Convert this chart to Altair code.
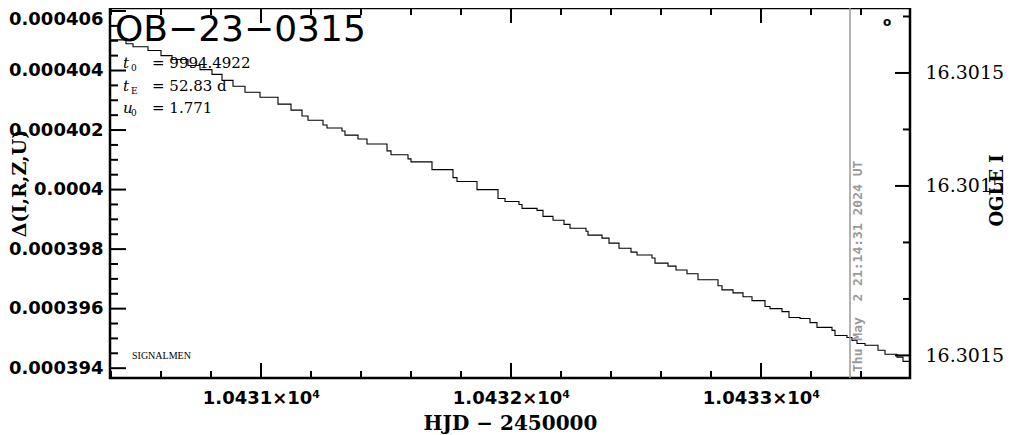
import altair as alt
import pandas as pd

# ---- light-curve data (HJD - 2450000, model flux) ----
hjd = [10430.396, 10430.460, 10430.488, 10430.548, 10430.600, 10430.644, 10430.708, 10430.756,
       10430.804, 10430.844, 10430.888, 10430.936, 10430.996, 10431.068, 10431.120, 10431.164,
       10431.188, 10431.248, 10431.264, 10431.324, 10431.336, 10431.388, 10431.424, 10431.504,
       10431.520, 10431.588, 10431.600, 10431.684, 10431.768, 10431.784, 10431.864, 10431.948,
       10431.976, 10432.032, 10432.044, 10432.104, 10432.128, 10432.168, 10432.212, 10432.236,
       10432.300, 10432.308, 10432.364, 10432.392, 10432.432, 10432.480, 10432.504, 10432.564,
       10432.576, 10432.628, 10432.660, 10432.704, 10432.748, 10432.828, 10432.844, 10432.888,
       10432.928, 10432.964, 10433.016, 10433.036, 10433.084, 10433.112, 10433.156, 10433.196,
       10433.224, 10433.284, 10433.296, 10433.344, 10433.364, 10433.384, 10433.416, 10433.468,
       10433.496, 10433.544, 10433.568, 10433.596]
flux = [0.00040503, 0.00040490, 0.00040480, 0.00040467, 0.00040450, 0.00040437, 0.00040417, 0.00040403,
        0.00040387, 0.00040367, 0.00040347, 0.00040327, 0.00040310, 0.00040287, 0.00040267, 0.00040247,
        0.00040233, 0.00040217, 0.00040207, 0.00040197, 0.00040183, 0.00040170, 0.00040153, 0.00040130,
        0.00040117, 0.00040103, 0.00040093, 0.00040067, 0.00040040, 0.00040027, 0.00040000, 0.00039970,
        0.00039960, 0.00039950, 0.00039937, 0.00039930, 0.00039910, 0.00039897, 0.00039883, 0.00039870,
        0.00039860, 0.00039847, 0.00039837, 0.00039820, 0.00039803, 0.00039790, 0.00039780, 0.00039770,
        0.00039753, 0.00039743, 0.00039730, 0.00039717, 0.00039697, 0.00039677, 0.00039663, 0.00039653,
        0.00039640, 0.00039627, 0.00039607, 0.00039600, 0.00039590, 0.00039570, 0.00039567, 0.00039553,
        0.00039537, 0.00039527, 0.00039510, 0.00039503, 0.00039493, 0.00039483, 0.00039477, 0.00039460,
        0.00039447, 0.00039437, 0.00039423, 0.00039423]

# ---- tick values ----
left_major = [0.000394, 0.000396, 0.000398, 0.0004, 0.000402, 0.000404, 0.000406]
left_minor = [0.0003945, 0.000395, 0.0003955, 0.0003965, 0.000397, 0.0003975, 0.0003985, 0.000399,
              0.0003995, 0.0004005, 0.000401, 0.0004015, 0.0004025, 0.000403, 0.0004035, 0.0004045,
              0.000405, 0.0004055]
x_major = [10431, 10432, 10433]
x_minor = [10430.4, 10430.6, 10430.8, 10431.2, 10431.4, 10431.6, 10431.8, 10432.2, 10432.4,
           10432.6, 10432.8, 10433.2, 10433.4]
ogle_major = [16.30149, 16.301494, 16.3015]
ogle_minor = [16.301488, 16.301492, 16.301496, 16.301498]

# ---- annotations ----
event = "OB\u221223\u22120315"
now_hjd = [10433.356]
now_label = ["Thu May \u00a02 21:14:31 2024 UT"]
param_sym = ["t", "t", "u"]
param_sub = ["0", "E", "0"]
param_val = ["= 9994.4922", "= 52.83 d", "= 1.771"]
footer = "SIGNALMEN"

W, H = 800, 370
xs = alt.Scale(domain=[10430.396, 10433.596], nice=False, zero=False)
ys = alt.Scale(domain=[0.00039367, 0.0004061], nice=False, zero=False)
ms = alt.Scale(domain=[16.3014877, 16.3015008], nice=False, zero=False, reverse=True)

lc = pd.DataFrame({"hjd": hjd, "flux": flux})

line = alt.Chart(lc).mark_line(interpolate="step-after", color="black", strokeWidth=1.1).encode(
    x=alt.X("hjd:Q", scale=xs, axis=alt.Axis(
        values=x_major, labelExpr="format(datum.value / 10000, '.4f') + '\u00d710\u2074'",
        ticks=False, domain=False, grid=False, labelFlush=False,
        labelFont="DejaVu Sans", labelFontWeight="bold", labelFontSize=18, labelColor="black",
        labelPadding=11,
        title="HJD \u2212 2450000", titleFont="DejaVu Serif", titleFontWeight="bold",
        titleFontSize=20, titleColor="black", titleY=51, titleBaseline="alphabetic")),
    y=alt.Y("flux:Q", scale=ys, axis=alt.Axis(
        values=left_major, labelExpr="format(datum.value, '~g')",
        ticks=False, domain=False, grid=False, labelFlush=False, labelOverlap=False,
        labelFont="DejaVu Sans", labelFontWeight="bold", labelFontSize=18, labelColor="black",
        labelPadding=7,
        labelBaseline={"condition": {"test": "datum.value > 0.0004055", "value": "top"},
                       "value": "middle"},
        title="\u0394(I,R,Z,U)", titleFont="DejaVu Serif", titleFontWeight="bold",
        titleFontSize=19, titleColor="black", titleAngle=270, titleX=-91, titleY=175,
        titleAlign="center", titleBaseline="middle")),
)


def yrules(vals, length):
    return alt.Chart(pd.DataFrame({"v": vals})).mark_rule(color="black", strokeWidth=2).encode(
        y=alt.Y("v:Q", scale=ys, axis=None), x=alt.value(0), x2=alt.value(length))


def xrules(vals, length, top):
    base = alt.Chart(pd.DataFrame({"v": vals})).mark_rule(color="black", strokeWidth=2)
    if top:
        return base.encode(x=alt.X("v:Q", scale=xs, axis=None), y=alt.value(0), y2=alt.value(length))
    return base.encode(x=alt.X("v:Q", scale=xs, axis=None), y=alt.value(H), y2=alt.value(H - length))


now_df = pd.DataFrame({"t": now_hjd, "s": now_label})
vline = alt.Chart(now_df).mark_rule(color="#9a9a9a", strokeWidth=1.5).encode(
    x=alt.X("t:Q", scale=xs, axis=None), y=alt.value(0), y2=alt.value(H))
vtext = alt.Chart(now_df).mark_text(
    angle=270, align="left", baseline="middle", dy=8, font="DejaVu Sans Mono",
    fontWeight="bold", fontSize=13, color="#9a9a9a").encode(
    x=alt.X("t:Q", scale=xs, axis=None), y=alt.value(H - 6), text="s:N")

title = alt.Chart(pd.DataFrame({"s": [event]})).mark_text(
    align="left", baseline="alphabetic", font="DejaVu Sans", fontSize=36, color="black").encode(
    x=alt.value(5), y=alt.value(33), text="s:N")

row_y = [60, 83, 105]
param_layers = []
for i in range(3):
    d = pd.DataFrame({"a": [param_sym[i]], "b": [param_sub[i]], "c": [param_val[i]]})
    base = alt.Chart(d)
    param_layers.append(base.mark_text(align="left", baseline="alphabetic", font="DejaVu Serif",
                                       fontSize=15, fontStyle="italic", color="black").encode(
        x=alt.value(13), y=alt.value(row_y[i]), text="a:N"))
    param_layers.append(base.mark_text(align="left", baseline="alphabetic", font="DejaVu Serif",
                                       fontSize=9, color="black").encode(
        x=alt.value(21), y=alt.value(row_y[i] + 3), text="b:N"))
    param_layers.append(base.mark_text(align="left", baseline="alphabetic", font="DejaVu Serif",
                                       fontSize=15, color="black").encode(
        x=alt.value(42), y=alt.value(row_y[i]), text="c:N"))

foot = alt.Chart(pd.DataFrame({"s": [footer]})).mark_text(
    align="left", baseline="alphabetic", font="Liberation Serif", fontSize=10, color="black").encode(
    x=alt.value(22), y=alt.value(351), text="s:N")

circ = alt.Chart(pd.DataFrame({"s": ["o"]})).mark_text(
    align="center", baseline="middle", font="DejaVu Sans", fontWeight="bold", fontSize=12,
    color="black").encode(x=alt.value(777), y=alt.value(14), text="s:N")

left = alt.layer(
    line, yrules(left_major, 16), yrules(left_minor, 8),
    xrules(x_major, 15, False), xrules(x_minor, 7, False),
    xrules(x_major, 15, True), xrules(x_minor, 7, True),
    vline, vtext, title, *param_layers, foot, circ,
).resolve_axis(x="independent", y="independent")

rmaj = alt.Chart(pd.DataFrame({"m": ogle_major})).mark_rule(color="black", strokeWidth=2).encode(
    y=alt.Y("m:Q", scale=ms, axis=alt.Axis(
        orient="right", values=ogle_major, labelExpr="format(datum.value, '.4f')",
        ticks=False, domain=False, grid=False, labelFlush=False, labelOverlap=False,
        labelFont="DejaVu Serif", labelFontSize=19, labelColor="black", labelPadding=15,
        title="OGLE I", titleFont="DejaVu Serif", titleFontWeight="bold", titleFontSize=18,
        titleColor="black", titleAngle=270, titleX=87, titleY=182, titleAlign="center",
        titleBaseline="middle")),
    x=alt.value(W - 15), x2=alt.value(W))
rmin = alt.Chart(pd.DataFrame({"m": ogle_minor})).mark_rule(color="black", strokeWidth=2).encode(
    y=alt.Y("m:Q", scale=ms, axis=None), x=alt.value(W - 7), x2=alt.value(W))
right = alt.layer(rmaj, rmin).resolve_axis(y="independent")

chart = alt.layer(left, right).resolve_scale(y="independent").resolve_axis(
    x="independent", y="independent").properties(
    width=W, height=H,
    autosize=alt.AutoSizeParams(type="none"),
    padding={"left": 102, "top": 0, "right": 96, "bottom": 57},
).configure_view(stroke="black", strokeWidth=2.5)

chart.save("out.html", embed_options={"renderer": "svg", "actions": False})
